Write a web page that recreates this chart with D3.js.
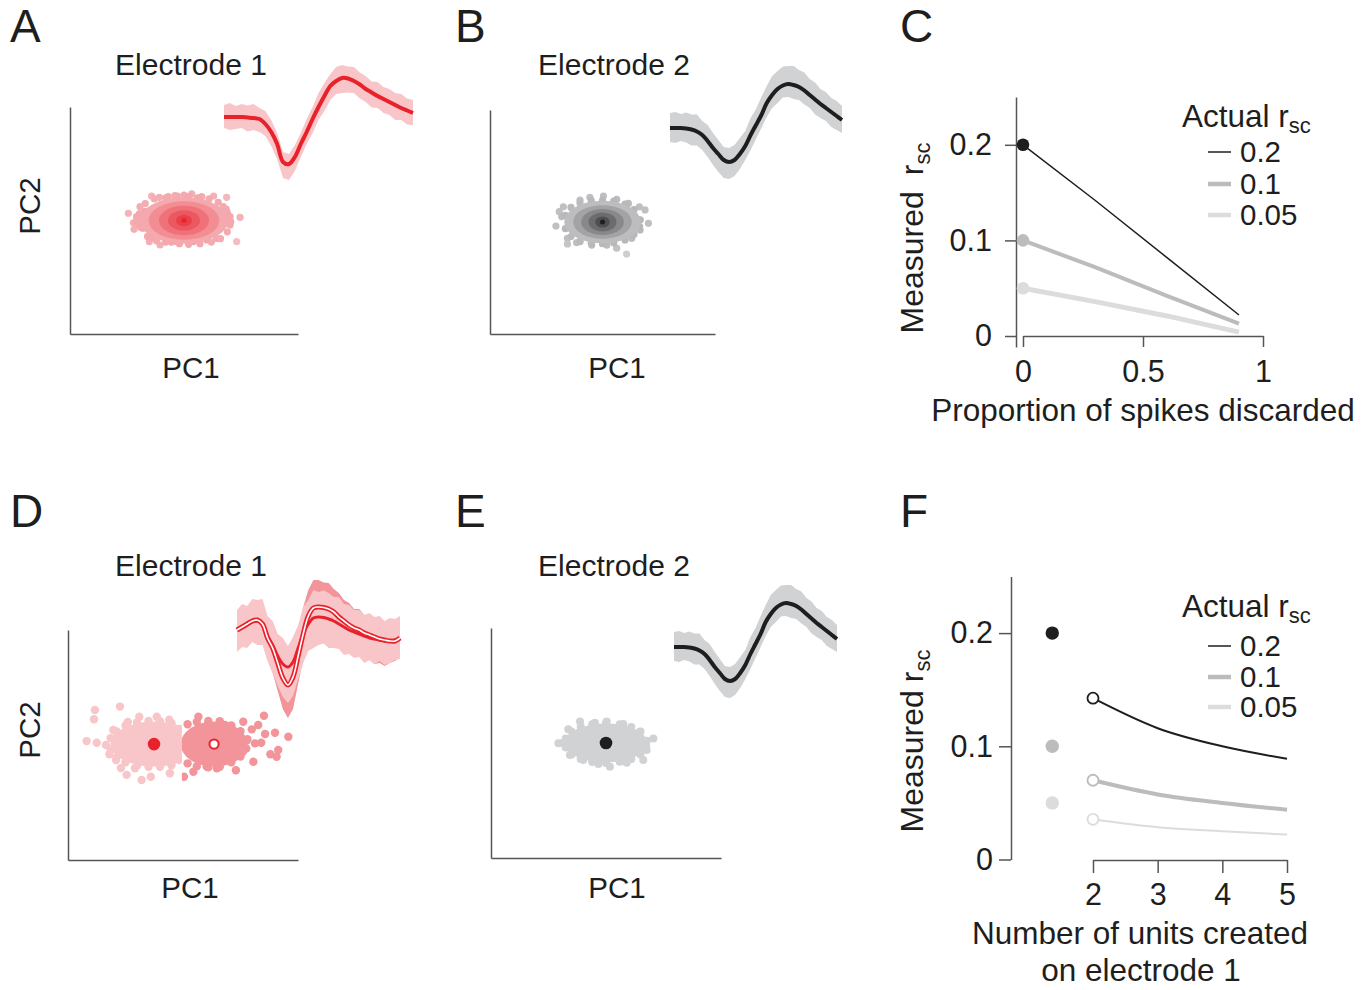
<!DOCTYPE html>
<html>
<head>
<meta charset="utf-8">
<script src="https://cdn.jsdelivr.net/npm/d3@7"></script>
<style>
  body { margin: 0; background: #fff; }
  text { font-family: "Liberation Sans", Arial, Helvetica, sans-serif; fill: #1e1e1e; }
  .axis path, .axis line { stroke: #555; stroke-width: 1.5; }
  .axis text { font-family: "Liberation Sans", Arial, Helvetica, sans-serif; font-size: 30.5px; fill: #1e1e1e; }
</style>
</head>
<body>
<script>
// ---------- data ----------

// Spike waveforms, 33 samples per snippet (arbitrary voltage units, baseline 0)
var wave1Mean = [0,0,0,0,-0.5,-1,-2,-7,-15,-27,-45,-47,-40,-27,-15,-2,10,21,31,36,39,38.5,36,32.5,28,24.5,21,18,15,12,9,6.5,4];
var wave1Up   = [12,14,11,13,12,14,11,13,12,11,10,10,12,11,13,12,14,13,12,14,13,12,14,12,13,11,14,12,13,12,14,12,13];
var wave1Lo   = [11,13,12,11,14,12,13,12,14,15,16,16,14,13,12,14,13,15,14,13,15,14,12,14,13,15,12,14,13,15,12,14,12];

var wave2Mean = [0,0,0,-0.5,-1.5,-3.5,-7,-13,-20,-26,-32,-34,-32,-26,-18,-7,3,13,25,33,39,42.5,44,43,41,37.5,33,28.5,24,20,16,12,8];
var wave2Up   = [15,16,14,16,15,17,14,16,15,14,13,14,15,16,15,17,16,18,17,19,18,19,18,19,17,18,16,17,15,16,14,15,14];
var wave2Lo   = [14,15,13,14,16,14,15,16,17,18,18,17,16,15,14,15,14,13,14,13,14,12,13,14,13,14,13,15,14,13,15,14,13];

// Electrode 1 split into two units (filled / open marker)
var unitFilledMean = [0,2,5,8,9,6,-6,-15,-26,-34,-37,-32,-18,-4,6,12,13,12.5,11,9,6,3,0,-2,-4,-6,-8,-9,-10,-11,-11,-10,-8];
var unitFilledUp   = [20,24,19,23,21,25,20,24,22,26,21,25,23,27,24,28,25,27,26,24,27,23,25,22,24,21,25,22,24,20,23,21,22];
var unitFilledLo   = [22,19,23,20,24,21,25,28,30,33,36,34,31,29,27,30,28,26,29,27,25,28,24,26,23,27,22,25,21,24,22,20,21];
var unitOpenMean   = [0,3,6,9,10,6,-8,-18,-33,-48,-55,-47,-26,-4,14,22,23,22.5,21,18,13,9,5,2,0,-3,-5,-7,-9,-10,-11,-11,-8];
var unitOpenUp     = [18,21,17,20,19,22,18,21,20,22,19,21,24,27,26,28,27,25,26,23,24,21,22,19,21,18,20,17,19,16,18,17,18];
var unitOpenLo     = [19,17,20,18,21,19,22,25,28,31,33,32,28,25,22,24,21,23,20,22,19,21,18,23,26,28,25,27,24,26,22,20,19];

// PC scores (PC1, PC2) of the spikes, cluster centres and density contours (half-widths)
var e1Center = [5, 5];
var e1Contours = [[1.95,1.02],[1.55,0.85],[1.1,0.65],[0.7,0.45],[0.35,0.25]];
var e1Spikes = [[2.56,5.32],[2.78,4.90],[2.81,4.61],[3.07,5.61],[3.19,4.66],[3.48,4.07],[3.58,6.08],[3.95,3.92],
  [3.92,6.02],[4.31,6.05],[4.71,6.08],[5.34,6.17],[5.78,6.05],[6.87,6.02],[6.72,5.61],[7.02,5.17],[7.46,5.14],
  [7.02,4.80],[7.31,4.07],[6.43,4.21],[6.0,4.14],[5.41,4.07],[4.68,4.07],[4.24,4.14],[6.58,4.66],[2.92,5.17],
  [3.3,5.4],[6.9,5.35],[3.0,4.85],[5.0,6.12],[6.3,6.08],[4.45,4.05],
  [3.05,5.3],[3.1,4.7],[3.3,5.75],[3.4,4.3],[3.7,5.95],[3.8,4.1],[4.2,6.0],[4.6,6.1],[5.2,6.05],[5.6,6.0],
  [6.1,5.95],[6.5,5.8],[6.85,5.5],[7.05,4.95],[6.9,4.5],[6.6,4.2],[6.2,4.05],[5.7,3.98],[5.2,3.95],[4.8,3.98],
  [4.2,4.05],[3.6,4.25],[3.15,5.0],[2.95,5.05]];

var e2Center = [5, 5];
var e2Contours = [[1.7,0.95],[1.3,0.75],[0.95,0.58],[0.62,0.42],[0.32,0.25]];
var e2Spikes = [[2.93,4.82],[3.08,5.46],[3.26,5.68],[3.44,4.27],[3.44,4.02],[3.85,4.08],[4.0,5.98],[4.44,6.10],
  [5.04,6.16],[5.63,6.01],[6.15,5.83],[6.64,5.68],[6.89,5.54],[7.04,4.94],[6.67,4.64],[6.3,4.27],[5.63,3.83],
  [6.07,3.57],[5.19,3.97],[4.52,3.97],[4.0,4.12],[6.44,5.17],[3.19,5.24],
  [3.35,5.3],[3.35,4.7],[3.6,5.65],[3.6,4.35],[4.0,5.85],[4.0,4.15],[4.5,5.95],[4.5,4.05],[5.0,5.97],[5.0,4.03],
  [5.5,5.93],[5.5,4.07],[6.0,5.8],[6.0,4.2],[6.4,5.55],[6.4,4.45],[6.68,5.1],[6.65,4.8]];

var e2bCenter = [5, 5];
var e2bContours = [[1.8,0.85]];
var e2bSpikes = [[2.93,4.99],[3.87,5.93],[4.52,5.88],[5.03,5.93],[5.75,5.83],[6.48,5.49],[7.06,5.2],[6.77,4.70],
  [6.62,4.26],[5.9,4.14],[5.17,3.97],[4.67,4.09],[4.01,4.26],[3.43,4.48],[3.36,5.6],[3.1,5.0],
  [3.25,5.2],[3.25,4.8],[3.5,5.5],[3.5,4.5],[3.9,5.72],[3.9,4.3],[4.4,5.82],[4.4,4.17],[5.0,5.87],[5.0,4.13],
  [5.6,5.82],[5.6,4.18],[6.1,5.7],[6.1,4.3],[6.5,5.5],[6.5,4.5],[6.78,5.1],[6.75,4.85]];

var splitBoundary = 4.95;
var leftCenter = [3.74, 5.04];
var leftContours = [[1.9,0.98]];
var leftSpikes = [[0.81,5.17],[1.25,5.1],[1.17,6.52],[1.13,6.12],[2.26,6.67],[1.65,5.0],[1.97,5.65],[2.09,4.35],
  [2.55,3.70],[3.2,3.48],[3.6,3.62],[3.1,6.23],[3.86,6.23],[4.43,3.77],[2.91,3.99],[2.3,4.0],[2.6,6.0],[4.4,6.1],[1.8,4.6],
  [1.85,5.3],[1.85,4.8],[2.1,5.6],[2.1,4.45],[2.5,5.85],[2.5,4.25],[3.0,5.98],[3.0,4.1],[3.5,6.05],[3.5,4.05],
  [4.0,6.03],[4.0,4.05],[4.5,5.95],[4.5,4.12],[4.85,5.7],[4.85,4.35]];
var rightCenter = [6.35, 5.04];
var rightContours = [[1.45,0.98]];
var rightSpikes = [[5.04,3.62],[5.45,3.84],[5.67,6.23],[6.1,5.91],[6.47,3.99],[6.83,5.87],[7.04,4.32],[7.62,6.01],
  [7.99,5.68],[8.27,5.87],[8.52,6.27],[8.06,4.27],[8.13,5.07],[8.57,5.48],[9.0,5.53],[9.58,5.36],[9.14,4.78],
  [9.07,4.49],[8.8,4.6],[7.48,5.0],[6.03,4.06],[7.2,4.45],[7.8,5.25],[7.1,5.8],[7.6,4.7],[8.4,5.1],[7.3,3.9],
  [5.2,5.9],[5.2,4.2],[5.6,6.0],[5.6,4.08],[6.1,6.05],[6.1,4.03],[6.6,6.03],[6.6,4.05],[7.1,5.85],[7.1,4.25],
  [7.5,5.6],[7.5,4.5],[7.78,5.2],[7.75,4.85]];

// Panel C: measured r_sc against proportion of spikes discarded
var actualRsc = [0.2, 0.1, 0.05];
var discarded = [0, 0.3, 0.6, 0.9];
var discard02 = [0.2, 0.142, 0.082, 0.022];
var discard01 = [0.1, 0.072, 0.042, 0.013];
var discard005 = [0.05, 0.036, 0.021, 0.004];

// Panel F: measured r_sc against number of units created on electrode 1
var unitsCreated = [2, 3, 4, 5];
var singleUnitPos = 1.37;   // x position of the unsplit (one unit) markers
var split02 = [0.1425, 0.116, 0.100, 0.089];
var split01 = [0.070, 0.0575, 0.050, 0.044];
var split005 = [0.0355, 0.0285, 0.025, 0.022];

// ---------- styles ----------
var red = "#e8212b", pinkLight = "#f8c6c9", pinkDark = "#f29499";
var grayBand = "#d1d2d4", black = "#1e1e1e";
var seriesColors = ["#1e1e1e", "#bcbcbe", "#dcdcde"];

var svg = d3.select("body").append("svg")
    .attr("width", 1371)
    .attr("height", 990);

function addText(x, y, str, size, anchor) {
    return svg.append("text")
        .attr("x", x).attr("y", y)
        .attr("font-size", size)
        .attr("text-anchor", anchor || "start")
        .text(str);
}

// Rotated y label with subscript
function yLabel(x, y, main, gap) {
    var t = svg.append("text")
        .attr("transform", "translate(" + x + "," + y + ") rotate(-90)")
        .attr("text-anchor", "middle")
        .attr("font-size", 32);
    t.append("tspan").text(main);
    t.append("tspan").attr("dx", gap).text("r");
    t.append("tspan").attr("dy", 7).attr("font-size", 22).text("sc");
}

// Panel letters
[["A", 10, 42], ["B", 455, 42], ["C", 900, 42], ["D", 10, 527], ["E", 455, 527], ["F", 900, 527]]
    .forEach(function(p) { addText(p[1], p[2], p[0], 46); });

// ---------- scatter panels ----------
function scatterAxes(x, y) {
    svg.append("g").attr("class", "axis")
        .attr("transform", "translate(0," + y(0) + ")")
        .call(d3.axisBottom(x).tickValues([]).tickSizeOuter(0));
    svg.append("g").attr("class", "axis")
        .attr("transform", "translate(" + x(0) + ",0)")
        .call(d3.axisLeft(y).tickValues([]).tickSizeOuter(0));
}

var clipId = 0;
function drawCluster(x, y, c) {
    var g = svg.append("g");
    if (c.clip) {
        var id = "clip" + (clipId++);
        svg.append("clipPath").attr("id", id).append("rect")
            .attr("x", x(c.clip[0])).attr("y", y(10))
            .attr("width", x(c.clip[1]) - x(c.clip[0]))
            .attr("height", y(0) - y(10));
        g.attr("clip-path", "url(#" + id + ")");
    }
    var rx0 = c.contours[0][0], ry0 = c.contours[0][1];
    var shade = d3.scaleLinear().domain([0.9, 1.7]).range(c.dotRange).clamp(true);

    // individual spikes around the dense core
    g.selectAll(".spike").data(c.spikes).enter().append("circle")
        .attr("class", "spike")
        .attr("cx", d => x(d[0]))
        .attr("cy", d => y(d[1]))
        .attr("r", c.r)
        .attr("fill", function(d) {
            var dx = (d[0] - c.center[0]) / rx0, dy = (d[1] - c.center[1]) / ry0;
            return shade(Math.sqrt(dx * dx + dy * dy));
        });

    // density contours of the core
    g.selectAll(".core").data(c.contours).enter().append("ellipse")
        .attr("class", "core")
        .attr("cx", x(c.center[0]))
        .attr("cy", y(c.center[1]))
        .attr("rx", d => x(c.center[0] + d[0]) - x(c.center[0]))
        .attr("ry", d => y(c.center[1]) - y(c.center[1] + d[1]))
        .attr("fill", (d, i) => c.colors[i]);
}

function drawWave(x, y, mean, up, lo, bandColor) {
    var area = d3.area()
        .x((d, i) => x(i))
        .y0((d, i) => y(mean[i] - lo[i]))
        .y1((d, i) => y(mean[i] + up[i]));
    svg.append("path").datum(mean).attr("d", area).attr("fill", bandColor);
}

function meanLine(x, y, mean, color, width) {
    var line = d3.line().x((d, i) => x(i)).y(d => y(d)).curve(d3.curveCatmullRom);
    return svg.append("path").datum(mean).attr("d", line)
        .attr("fill", "none").attr("stroke", color).attr("stroke-width", width)
        .attr("stroke-linejoin", "round");
}

function scatterLabels(cx, bottom, showPC2, midY) {
    addText(cx, bottom, "PC1", 29.5, "middle");
    if (showPC2) {
        svg.append("text")
            .attr("transform", "translate(40," + midY + ") rotate(-90)")
            .attr("text-anchor", "middle").attr("font-size", 29.5).text("PC2");
    }
}

// Panel A: electrode 1
var xA = d3.scaleLinear().domain([0, 10]).range([70, 298]);
var yA = d3.scaleLinear().domain([0, 10]).range([334, 107]);
scatterAxes(xA, yA);
addText(191, 75, "Electrode 1", 30, "middle");
scatterLabels(191, 378, true, 206);
drawCluster(xA, yA, {center: e1Center, contours: e1Contours, spikes: e1Spikes, r: 3.6,
    colors: ["#f4a9ae", "#f28d94", "#ef727a", "#ec5860", "#e93f48"], dotRange: ["#f3a2a7", "#f7c5c8"]});
svg.append("circle").attr("cx", xA(e1Center[0])).attr("cy", yA(e1Center[1])).attr("r", 2.5).attr("fill", "#e42530");
var twA = d3.scaleLinear().domain([0, 32]).range([224, 413]);
var vwA = d3.scaleLinear().domain([-50, 50]).range([167, 67]);
drawWave(twA, vwA, wave1Mean, wave1Up, wave1Lo, pinkLight);
meanLine(twA, vwA, wave1Mean, red, 4);

// Panel B: electrode 2
var xB = d3.scaleLinear().domain([0, 10]).range([490, 715]);
var yB = d3.scaleLinear().domain([0, 10]).range([334, 110]);
scatterAxes(xB, yB);
addText(614, 75, "Electrode 2", 30, "middle");
scatterLabels(617, 378, false);
drawCluster(xB, yB, {center: e2Center, contours: e2Contours, spikes: e2Spikes, r: 3.6,
    colors: ["#bdbdbf", "#a3a3a5", "#88888a", "#6c6c6e", "#4e4e50"], dotRange: ["#b4b4b6", "#d0d0d2"]});
svg.append("circle").attr("cx", xB(e2Center[0])).attr("cy", yB(e2Center[1])).attr("r", 2.5).attr("fill", black);
var twB = d3.scaleLinear().domain([0, 32]).range([670, 842]);
var vwB = d3.scaleLinear().domain([-50, 50]).range([178, 78]);
drawWave(twB, vwB, wave2Mean, wave2Up, wave2Lo, grayBand);
meanLine(twB, vwB, wave2Mean, black, 4);

// Panel D: electrode 1 split into two units
var xD = d3.scaleLinear().domain([0, 10]).range([68, 298]);
var yD = d3.scaleLinear().domain([0, 10]).range([860, 630]);
scatterAxes(xD, yD);
addText(191, 576, "Electrode 1", 30, "middle");
scatterLabels(190, 898, true, 730);
drawCluster(xD, yD, {center: leftCenter, contours: leftContours, spikes: leftSpikes, r: 4.2,
    colors: [pinkLight], dotRange: [pinkLight, pinkLight], clip: [0, splitBoundary]});
drawCluster(xD, yD, {center: rightCenter, contours: rightContours, spikes: rightSpikes, r: 4.2,
    colors: [pinkDark], dotRange: [pinkDark, pinkDark], clip: [splitBoundary, 10]});
svg.append("circle").attr("cx", xD(leftCenter[0])).attr("cy", yD(leftCenter[1])).attr("r", 6.3).attr("fill", red);
svg.append("circle").attr("cx", xD(rightCenter[0])).attr("cy", yD(rightCenter[1])).attr("r", 4.6)
    .attr("fill", "#fff").attr("stroke", red).attr("stroke-width", 2);
var twD = d3.scaleLinear().domain([0, 32]).range([237, 400]);
var vwD = d3.scaleLinear().domain([-50, 50]).range([680, 580]);
drawWave(twD, vwD, unitOpenMean, unitOpenUp, unitOpenLo, pinkDark);
drawWave(twD, vwD, unitFilledMean, unitFilledUp, unitFilledLo, pinkLight);
meanLine(twD, vwD, unitFilledMean, red, 3);
meanLine(twD, vwD, unitOpenMean, red, 5);
meanLine(twD, vwD, unitOpenMean, "#fff", 1.6);

// Panel E: electrode 2
var xE = d3.scaleLinear().domain([0, 10]).range([491, 721]);
var yE = d3.scaleLinear().domain([0, 10]).range([858, 628]);
scatterAxes(xE, yE);
addText(614, 576, "Electrode 2", 30, "middle");
scatterLabels(617, 898, false);
drawCluster(xE, yE, {center: e2bCenter, contours: e2bContours, spikes: e2bSpikes, r: 4,
    colors: [grayBand], dotRange: [grayBand, grayBand]});
svg.append("circle").attr("cx", xE(e2bCenter[0])).attr("cy", yE(e2bCenter[1])).attr("r", 6.3).attr("fill", black);
var twE = d3.scaleLinear().domain([0, 32]).range([674, 837]);
var vwE = d3.scaleLinear().domain([-50, 50]).range([697, 597]);
drawWave(twE, vwE, wave2Mean, wave2Up, wave2Lo, grayBand);
meanLine(twE, vwE, wave2Mean, black, 4);

// ---------- legend ----------
function legend(x, yTitle, rowY, widths) {
    var t = svg.append("text").attr("x", x).attr("y", yTitle).attr("font-size", 31.5);
    t.append("tspan").text("Actual r");
    t.append("tspan").attr("dy", 6).attr("font-size", 22).text("sc");
    actualRsc.forEach(function(v, i) {
        svg.append("line")
            .attr("x1", x + 26).attr("x2", x + 49)
            .attr("y1", rowY[i]).attr("y2", rowY[i])
            .attr("stroke", seriesColors[i]).attr("stroke-width", widths[i]);
        addText(x + 58, rowY[i] + 10, String(v), 29.5);
    });
}

// Panel C: discarding spikes
var xC = d3.scaleLinear().domain([0, 1]).range([1023, 1263]);
var yC = d3.scaleLinear().domain([-0.0115, 0.25]).range([347, 97]);

svg.append("g").attr("class", "axis")
    .attr("transform", "translate(1016,0)")
    .call(d3.axisLeft(yC).tickValues([0, 0.1, 0.2]).tickSize(11).tickSizeOuter(0).tickPadding(13).tickFormat(String));
svg.append("g").attr("class", "axis")
    .attr("transform", "translate(0," + yC(0) + ")")
    .call(d3.axisBottom(xC).tickValues([0, 0.5, 1]).tickSize(11).tickSizeOuter(0).tickPadding(13).tickFormat(String));

var lineC = d3.line().x((d, i) => xC(discarded[i])).y(d => yC(d));
var discardSeries = [discard02, discard01, discard005];
var widthsC = [1.5, 4, 5];
for (var i = discardSeries.length - 1; i >= 0; i--) {
    svg.append("path").datum(discardSeries[i]).attr("d", lineC)
        .attr("fill", "none").attr("stroke", seriesColors[i]).attr("stroke-width", widthsC[i]);
    svg.append("circle").attr("cx", xC(discarded[0])).attr("cy", yC(discardSeries[i][0]))
        .attr("r", 6.3).attr("fill", seriesColors[i]);
}
yLabel(923, 238, "Measured", 16);
addText(1143, 421, "Proportion of spikes discarded", 31.5, "middle");
legend(1182, 127, [152, 184, 215], [1.5, 4.5, 4.5]);

// Panel F: splitting electrode 1 into several units
var xF = d3.scaleLinear().domain([2, 5]).range([1093, 1287]);
var yF = d3.scaleLinear().domain([0, 0.25]).range([859.5, 576.5]);

svg.append("g").attr("class", "axis")
    .attr("transform", "translate(1011,0)")
    .call(d3.axisLeft(yF).tickValues([0, 0.1, 0.2]).tickSize(12).tickSizeOuter(0).tickPadding(6).tickFormat(String));
svg.append("g").attr("class", "axis")
    .attr("transform", "translate(0,860)")
    .call(d3.axisBottom(xF).tickValues(unitsCreated).tickSize(13).tickSizeOuter(0).tickPadding(10).tickFormat(String));

var lineF = d3.line().x((d, i) => xF(unitsCreated[i])).y(d => yF(d)).curve(d3.curveMonotoneX);
var splitSeries = [split02, split01, split005];
var widthsF = [2, 4, 2];
for (var j = splitSeries.length - 1; j >= 0; j--) {
    svg.append("path").datum(splitSeries[j]).attr("d", lineF)
        .attr("fill", "none").attr("stroke", seriesColors[j]).attr("stroke-width", widthsF[j]);
    svg.append("circle").attr("cx", xF(unitsCreated[0])).attr("cy", yF(splitSeries[j][0]))
        .attr("r", 5.5).attr("fill", "#fff").attr("stroke", seriesColors[j]).attr("stroke-width", 1.8);
    svg.append("circle").attr("cx", xF(singleUnitPos)).attr("cy", yF(actualRsc[j]))
        .attr("r", 6.7).attr("fill", seriesColors[j]);
}
yLabel(923, 741, "Measured", 8);
addText(1140, 944, "Number of units created", 31.5, "middle");
addText(1141, 981, "on electrode 1", 31.5, "middle");
legend(1182, 617, [646, 677, 707], [1.5, 4.5, 4.5]);
</script>
</body>
</html>
